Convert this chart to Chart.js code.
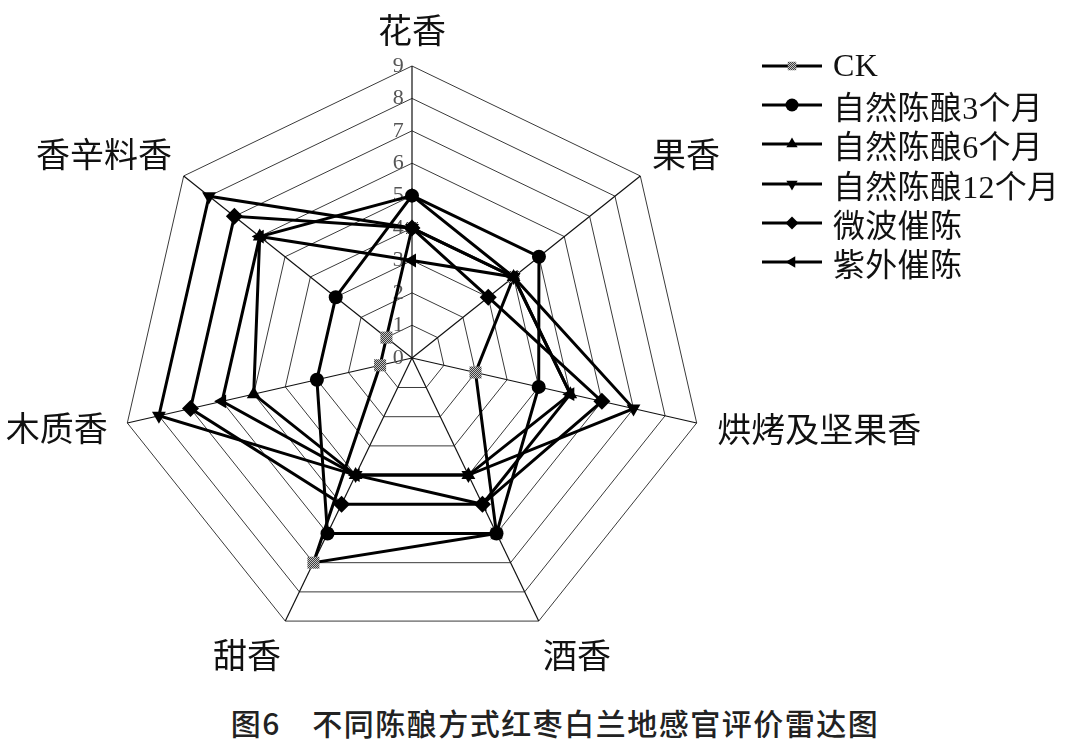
<!DOCTYPE html>
<html lang="zh">
<head>
<meta charset="utf-8">
<title>不同陈酿方式红枣白兰地感官评价雷达图</title>
<script src="https://cdn.jsdelivr.net/npm/chart.js@4.4.1/dist/chart.umd.min.js"></script>
<style>
  html, body { margin: 0; padding: 0; background: #fff; }
  body { position: relative; width: 1080px; height: 754px; overflow: hidden; }
  #radar { position: absolute; left: -87px; top: 12px; }
  #legend { position: absolute; left: 760px; top: 46px; margin: 0; padding: 0; list-style: none; }
  #legend li { display: flex; align-items: center; height: 39.3px; font: 32px "Liberation Serif", "Noto Sans CJK SC", serif;
               letter-spacing: 0.3px; color: #111; }
  #legend canvas { margin-right: 9px; }
  #caption { position: absolute; left: 30px; right: 0; top: 700px; line-height: 40px; text-align: center;
             font: 500 30px "Noto Sans CJK SC", sans-serif; letter-spacing: 1.5px; color: #222; }
</style>
</head>
<body>
<canvas id="radar" width="1030" height="676"></canvas>
<ul id="legend"></ul>
<div id="caption">图6　不同陈酿方式红枣白兰地感官评价雷达图</div>
<script>
// aroma attributes (clockwise from top) and sensory scores
const aromaLabels = ['花香', '果香', '烘烤及坚果香', '酒香', '甜香', '木质香', '香辛料香'];
const seriesNames = ['CK', '自然陈酿3个月', '自然陈酿6个月', '自然陈酿12个月', '微波催陈', '紫外催陈'];
const ckScores = [4, 4, 2, 6, 7, 1, 1];
const aged3Scores = [5, 5, 4, 6, 6, 3, 3];
const aged6Scores = [5, 4, 5, 4, 4, 5, 6];
const aged12Scores = [4, 4, 7, 4, 4, 8, 8];
const microwaveScores = [4, 3, 6, 5, 5, 7, 7];
const uvScores = [3, 4, 5, 5, 4, 6, 6];
const tickLabels = ['0', '1', '2', '3', '4', '5', '6', '7', '8', '9'];
const scoreMax = 9;

const allScores = [ckScores, aged3Scores, aged6Scores, aged12Scores, microwaveScores, uvScores];

// marker look of each series
const markers = [
    { style: 'rect', rotation: 0, radius: 8.5 },
    { style: 'circle', rotation: 0, radius: 7 },
    { style: 'triangle', rotation: 0, radius: 8 },
    { style: 'triangle', rotation: 180, radius: 8 },
    { style: 'rectRot', rotation: 0, radius: 8.5 },
    { style: 'triangle', rotation: 270, radius: 8 }
];

// label placement tweaks, one per axis
const labelPad = [16, 5, 11, 0, 0, 10, 5];
const labelLine = [20, 26, 2, 50, 50, 2, 26];

function checkerPattern(ctx) {
    const tile = document.createElement('canvas');
    tile.width = 2;
    tile.height = 2;
    const g = tile.getContext('2d');
    g.fillStyle = '#c4c4c4';
    g.fillRect(0, 0, 2, 2);
    g.fillStyle = '#3c3c3c';
    g.fillRect(0, 0, 1, 1);
    g.fillRect(1, 1, 1, 1);
    return ctx.createPattern(tile, 'repeat');
}

const canvas = document.getElementById('radar');
const ctx = canvas.getContext('2d');

const datasets = seriesNames.map((name, i) => ({
    label: name,
    data: allScores[i],
    order: i === 0 ? 1 : 0,   // CK sits underneath the others
    fill: false,
    borderColor: '#000',
    borderWidth: 3,
    tension: 0,
    pointStyle: markers[i].style,
    pointRotation: markers[i].rotation,
    pointRadius: markers[i].radius,
    pointHoverRadius: markers[i].radius,
    pointBorderWidth: 0,
    pointBackgroundColor: i === 0 ? checkerPattern(ctx) : '#000'
}));

const chart = new Chart(ctx, {
    type: 'radar',
    data: { labels: aromaLabels, datasets: datasets },
    options: {
        responsive: false,
        animation: false,
        layout: { padding: 0 },
        plugins: {
            legend: { display: false },
            title: { display: false },
            tooltip: { enabled: false }
        },
        scales: {
            r: {
                min: -0.01,
                max: scoreMax,
                grid: { color: '#3a3a3a', lineWidth: 1 },
                angleLines: { color: '#111', lineWidth: 1.2 },
                ticks: {
                    stepSize: 1,
                    showLabelBackdrop: false,
                    backdropPadding: -1,
                    color: '#555',
                    font: { family: '"Liberation Serif", serif', size: 22 },
                    callback: (v) => {
                        const label = v < 0 ? tickLabels[0] : (Number.isInteger(v) && v > 0 ? tickLabels[v] : '');
                        return label ? label + '     ' : '';
                    }
                },
                pointLabels: {
                    color: '#111',
                    padding: (c) => labelPad[c.index],
                    font: (c) => ({
                        family: '"Noto Sans CJK SC", sans-serif',
                        size: 34,
                        lineHeight: labelLine[c.index] + 'px'
                    })
                }
            }
        }
    }
});

// html legend: line with the series marker, then the name
const legendList = document.getElementById('legend');
chart.data.datasets.forEach((ds, i) => {
    const li = document.createElement('li');
    const icon = document.createElement('canvas');
    icon.width = 64;
    icon.height = 24;
    const ictx = icon.getContext('2d');
    ictx.strokeStyle = '#000';
    ictx.lineWidth = 3;
    ictx.beginPath();
    ictx.moveTo(2, 12);
    ictx.lineTo(62, 12);
    ictx.stroke();
    ictx.fillStyle = i === 0 ? checkerPattern(ictx) : '#000';
    Chart.helpers.drawPoint(ictx, {
        pointStyle: ds.pointStyle,
        rotation: ds.pointRotation,
        radius: i === 0 ? 6 : 6.5,
        borderWidth: 0
    }, 32, 12);
    li.appendChild(icon);
    const text = document.createElement('span');
    text.textContent = ds.label;
    li.appendChild(text);
    legendList.appendChild(li);
});
</script>
</body>
</html>
